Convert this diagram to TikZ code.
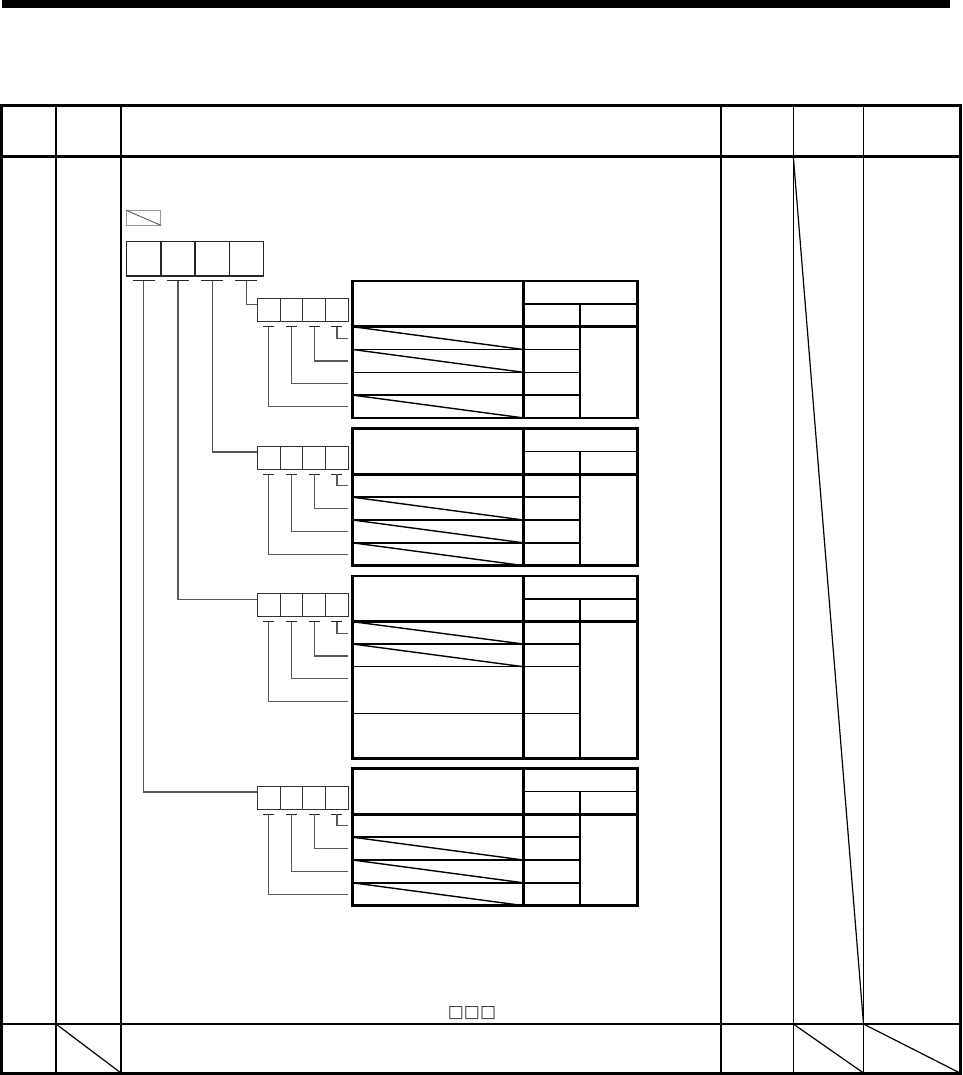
\documentclass[tikz,border=0pt]{standalone}
\usepackage{fontspec}
\newfontfamily\boxfont{DejaVu Sans}
\usetikzlibrary{positioning,calc}

\begin{document}
\begin{tikzpicture}[x=1pt,y=-1pt,
 frame/.style={line width=3pt},
 rule/.style={line width=2pt},
 hair/.style={line width=1.2pt},
 digit/.style={draw=black!85,line width=1.3pt,minimum width=34.15pt,minimum height=34.3pt,inner sep=0pt,outer sep=0pt},
 bit/.style={draw=black!80,line width=1pt,minimum width=22.75pt,minimum height=23.3pt,inner sep=0pt,outer sep=0pt},
 lead/.style={draw=black!65,line width=1.2pt},
 tick/.style={draw=black!85,line width=1pt},
 tab/.style={line width=2.6pt},
 cell/.style={line width=1.5pt},
 slash/.style={line width=1.4pt}]
\useasboundingbox (0,0) rectangle (962,1075);

% page rule and table frame
\fill (1.5,0) rectangle (950,8.5);
\draw[frame] (1.5,105.7) rectangle (960,1073);
\draw[frame] (1.5,156.4) -- (960,156.4);
\draw[rule] (1.5,1024) -- (960,1024);
\draw[rule] (56,105.7) -- (56,1073);
\draw[rule] (121,105.7) -- (121,1073);
\foreach \x in {721,793.3,863.5} \draw[hair] (\x,105.7) -- (\x,1073);
\draw[hair] (793.3,156.4) -- (863.5,1024);
\draw[hair] (56,1024) -- (121,1073) (793.3,1024) -- (863.5,1073) (863.5,1024) -- (960,1073);

% legend
\node[draw=black!40,line width=0.8pt,minimum width=34pt,minimum height=14.3pt,inner sep=0pt] (key) at (143.7,217.9) {};
\draw[black!70,line width=0.8pt] (key.north west) -- (key.south east);

% four-digit parameter
\node[digit] (d1) at (143.8,258.9) {};
\foreach \i [count=\p] in {2,3,4} \node[digit,right=0pt of d\p] (d\i) {};
\foreach \i in {1,...,4} {
 \coordinate (t\i) at ([yshift=-4.7pt]d\i.south);
 \draw[tick] ([xshift=-11pt]t\i) -- ([xshift=11pt]t\i);
}

% bit groups with their tables
\foreach \g/\top/\h in {1/298.3/136.9,2/446/136.9,3/593.3/182.3,4/786/136.9} {
 \node[bit] (b\g1) at (268.7,\top+11.65) {};
 \foreach \j [count=\p] in {2,3,4} \node[bit,right=0pt of b\g\p] (b\g\j) {};
 \foreach \j in {1,...,4} {
  \coordinate (s\g\j) at ([yshift=-5pt]b\g\j.south);
  \coordinate (r\g\j) at ($(b\g4.east)+(0,{28.15+22.8*(4-\j)})$);
  \draw[tick] ([xshift=-5.5pt]s\g\j) -- ([xshift=5.5pt]s\g\j);
  \draw[lead] (s\g\j) |- (r\g\j);
 }
 \begin{scope}[shift={(352.7,{\top-17.3})}]
 \draw[tab] (0,0) rectangle (284.8,\h);
 \draw[tab] (170.6,0) -- (170.6,\h) (0,45.7) -- (284.8,45.7);
 \draw[cell] (170.6,23) -- (284.8,23) (227.3,23) -- (227.3,\h);
 \end{scope}
}
\foreach \i/\g in {4/1,3/2,2/3,1/4}
 \draw[lead] (t\i) |- ([yshift=-6pt]b\g1.north west);

% rows and slashes, tables 1, 2 and 4
\foreach \top/\sl in {281/{1,2,4},428.7/{2,3,4},768.7/{2,3,4}} {
 \begin{scope}[shift={(352.7,\top)}]
 \foreach \k in {1,2,3} \draw[cell] (0,45.7+22.8*\k) -- (227.3,45.7+22.8*\k);
 \foreach \k in \sl \draw[slash] (0,{45.7+22.8*(\k-1)}) -- (170.6,{45.7+22.8*\k});
 \end{scope}
}
% table 3
\begin{scope}[shift={(352.7,576)}]
\foreach \y in {68,90.7,137.3} \draw[cell] (0,\y) -- (227.3,\y);
\draw[slash] (0,45.7) -- (170.6,68) (0,68) -- (170.6,90.7);
\end{scope}

\node[font=\boxfont\fontsize{17}{17}\selectfont,text=black!80,inner sep=0pt] (unit) at (472,1013.4) {□□□};
\end{tikzpicture}
\end{document}
